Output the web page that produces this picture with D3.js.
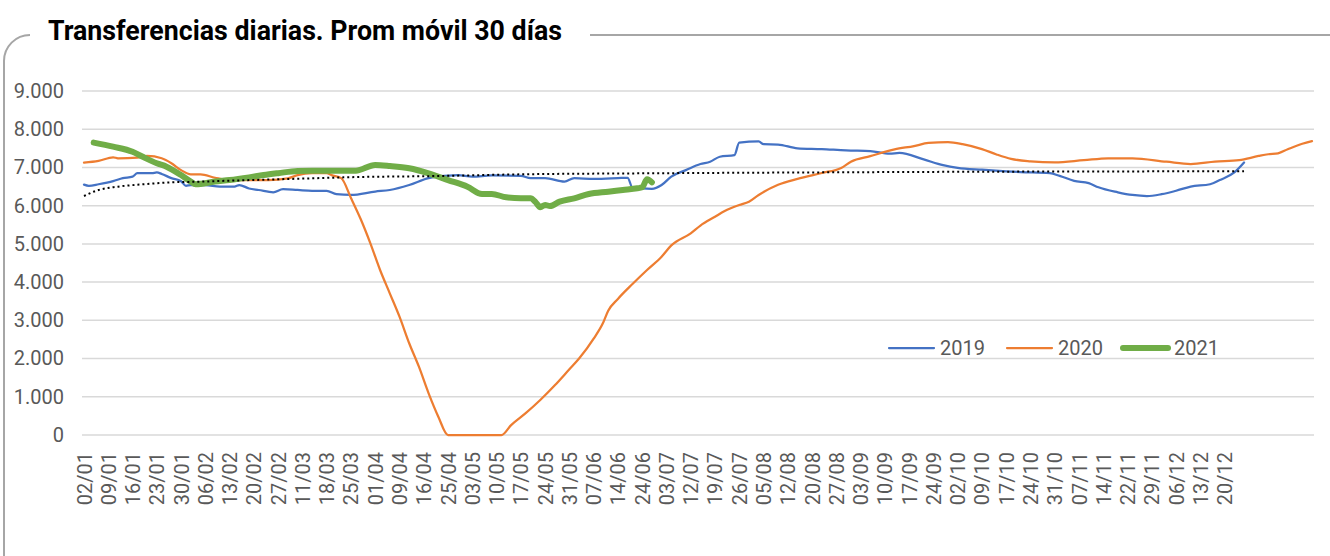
<!DOCTYPE html>
<html lang="es">
  <head>
    <meta charset="utf-8">
    <title>Transferencias diarias</title>
    <script type="text/javascript" src="https://d3js.org/d3.v7.min.js"></script>
    <style type="text/css">
      body{
        margin: 0;
        background: #ffffff;
      }
      text{
        font-family: Roboto, "Liberation Sans", sans-serif;
      }
    </style>
  </head>
  <body>
    <div id="placeHere"></div>

    <script type="text/javascript">
      //width and height
      var w = 1330;
      var h = 556;

      //number of daily categories (business days) on the x axis
      var nDays = 254;

      //x tick labels, one every 5 days
      var tickLabels = ["02/01","09/01","16/01","23/01","30/01","06/02","13/02","20/02","27/02","11/03",
                        "18/03","25/03","01/04","09/04","16/04","25/04","03/05","10/05","17/05","24/05",
                        "31/05","07/06","14/06","24/06","03/07","12/07","19/07","26/07","05/08","12/08",
                        "20/08","27/08","03/09","10/09","17/09","24/09","02/10","09/10","17/10","24/10",
                        "31/10","07/11","14/11","22/11","29/11","06/12","13/12","20/12"];
      var yTicks = [0, 1000, 2000, 3000, 4000, 5000, 6000, 7000, 8000, 9000];

      //series values: [day index, value]
      var s2019 = [[0,6550],[1,6520],[3,6560],[6,6640],[8,6720],[10,6760],[11,6850],[14,6850],[15,6870],
                   [16,6830],[18,6720],[20,6640],[21,6520],[22,6540],[25,6540],[28,6500],[31,6500],[32,6540],
                   [34,6450],[36,6410],[39,6350],[41,6430],[44,6410],[47,6390],[50,6390],[52,6300],[55,6280],
                   [60,6370],[63,6410],[67,6540],[71,6720],[73,6760],[77,6800],[80,6760],[84,6790],[90,6780],
                   [92,6720],[95,6720],[99,6630],[101,6720],[105,6700],[110,6720],[112,6730],[113,6470],
                   [117,6440],[119,6540],[121,6760],[124,6930],[127,7090],[129,7150],[131,7280],[134,7320],
                   [135,7650],[139,7680],[140,7610],[143,7600],[147,7500],[152,7480],[157,7445],[162,7430],
                   [166,7360],[168,7380],[173,7210],[177,7060],[180,6990],[185,6940],[190,6900],[193,6880],
                   [199,6850],[201,6780],[204,6650],[207,6590],[209,6480],[213,6350],[216,6280],[219,6250],
                   [222,6300],[225,6390],[228,6500],[232,6560],[234,6670],[237,6870],[239,7130]];

      var s2020 = [[0,7125],[3,7170],[6,7265],[7,7240],[11,7255],[13,7300],[16,7240],[18,7110],[20,6930],
                   [22,6820],[24,6820],[27,6730],[30,6670],[34,6670],[38,6670],[42,6715],[44,6800],[47,6850],
                   [50,6850],[51,6800],[53,6720],[55,6200],[57,5650],[59,5015],[61,4317],[63,3707],[65,3097],
                   [67,2400],[69,1787],[71,1090],[73,480],[75,0],[86,0],[88,260],[91,570],[94,915],[97,1300],
                   [100,1720],[102,2000],[105,2520],[107,2950],[108,3250],[110,3560],[113,3950],[116,4317],
                   [119,4665],[121,4960],[125,5277],[127,5480],[130,5710],[132,5860],[135,6018],[137,6105],
                   [139,6280],[143,6546],[147,6700],[152,6855],[156,6987],[158,7150],[162,7295],[167,7471],
                   [171,7560],[174,7640],[178,7660],[181,7610],[185,7480],[188,7340],[191,7225],[195,7160],
                   [200,7130],[206,7190],[211,7240],[216,7240],[223,7150],[228,7090],[233,7150],[238,7190],
                   [242,7300],[244,7345],[246,7370],[248,7475],[251,7620],[253,7690]];

      var s2021 = [[2,7650],[6,7545],[10,7410],[12,7285],[15,7110],[17,7020],[20,6800],[22,6630],[23,6560],
                   [27,6630],[30,6670],[34,6740],[37,6800],[40,6850],[44,6910],[47,6915],[51,6915],[56,6915],
                   [60,7064],[63,7038],[67,6978],[71,6846],[75,6670],[79,6497],[82,6305],[84,6305],[87,6218],
                   [90,6193],[92,6193],[93,6100],[94,5960],[95,6018],[96,5990],[98,6105],[101,6193],[104,6305],
                   [108,6366],[111,6410],[114,6454],[115,6480],[116,6690],[117,6610]];

      //dotted trend line of 2019
      var trend2019 = [[0,6253],[3,6410],[7,6497],[13,6567],[18,6611],[24,6628],[30,6654],[35,6672],
                       [40,6690],[47,6715],[54,6742],[73,6776],[90,6820],[115,6846],[139,6863],[190,6890],
                       [239,6900]];

      var seriesNames = ["2019", "2020", "2021"];
      var seriesColors = ["#4472C4", "#ED7D31", "#70AD47"];
      var seriesWidths = [2.25, 2.25, 6];

      //number format 9.000
      var fmt = d3.formatLocale({decimal: ",", thousands: ".", grouping: [3], currency: ["$", ""]}).format(",");

      //scales
      var xScale = d3.scaleLinear()
                     .domain([0, nDays - 1])
                     .range([84, 1312]);

      var yScale = d3.scaleLinear()
                     .domain([0, 9000])
                     .range([435, 91]);

      //SVG element
      var svg = d3.select("#placeHere")
                  .append("svg")
                  .attr("width", w)
                  .attr("height", h);

      //frame with rounded corner, broken by the title
      svg.append("path")
         .attr("d", "M 30 35 A 26 26 0 0 0 4 61 L 4 600")
         .attr("fill", "none")
         .attr("stroke", "#a6a6a6")
         .attr("stroke-width", 2);
      svg.append("path")
         .attr("d", "M 590 35 L 1330 35")
         .attr("fill", "none")
         .attr("stroke", "#a6a6a6")
         .attr("stroke-width", 2);

      //title
      svg.append("text")
         .attr("x", 48)
         .attr("y", 40)
         .attr("font-size", "27px")
         .attr("font-weight", "bold")
         .attr("fill", "#000000")
         .attr("textLength", 514)
         .attr("lengthAdjust", "spacingAndGlyphs")
         .text("Transferencias diarias. Prom móvil 30 días");

      //gridlines
      svg.selectAll("line.grid")
         .data(yTicks)
         .enter()
         .append("line")
         .attr("class", "grid")
         .attr("x1", 82)
         .attr("x2", 1314)
         .attr("y1", function(d){ return yScale(d); })
         .attr("y2", function(d){ return yScale(d); })
         .attr("stroke", "#d9d9d9")
         .attr("stroke-width", 1.5);

      //y axis labels
      var yAxis = d3.axisLeft(yScale)
                    .tickValues(yTicks)
                    .tickFormat(fmt)
                    .tickSize(0)
                    .tickPadding(0);
      var gy = svg.append("g")
                  .attr("transform", "translate(64,0)")
                  .call(yAxis);
      gy.select(".domain").remove();
      gy.selectAll("text")
        .attr("font-family", "Roboto, sans-serif")
        .attr("font-size", "20px")
        .attr("fill", "#595959");

      //x axis labels, rotated
      var xAxis = d3.axisBottom(xScale)
                    .tickValues(d3.range(tickLabels.length).map(function(i){ return i * 5; }))
                    .tickFormat(function(d){ return tickLabels[d / 5]; })
                    .tickSize(0)
                    .tickPadding(0);
      var gx = svg.append("g")
                  .attr("transform", "translate(0,452)")
                  .call(xAxis);
      gx.select(".domain").remove();
      gx.selectAll("text")
        .attr("font-family", "Roboto, sans-serif")
        .attr("font-size", "20px")
        .attr("fill", "#595959")
        .attr("text-anchor", "end")
        .attr("transform", "rotate(-90)")
        .attr("x", 0)
        .attr("y", 0)
        .attr("dy", "0.35em");

      //lines
      var line = d3.line()
                   .x(function(d){ return xScale(d[0]); })
                   .y(function(d){ return yScale(d[1]); })
                   .curve(d3.curveMonotoneX);

      [s2019, s2020, s2021].forEach(function(s, i){
        svg.append("path")
           .datum(s)
           .attr("d", line)
           .attr("fill", "none")
           .attr("stroke", seriesColors[i])
           .attr("stroke-width", seriesWidths[i])
           .attr("stroke-linejoin", "round")
           .attr("stroke-linecap", "round");
      });

      //trend line
      svg.append("path")
         .datum(trend2019)
         .attr("d", line)
         .attr("fill", "none")
         .attr("stroke", "#000000")
         .attr("stroke-width", 2)
         .attr("stroke-dasharray", "2,3");

      //legend
      var legendX = [889, 1007, 1123];
      var legend = svg.selectAll("g.legend")
                      .data(seriesNames)
                      .enter()
                      .append("g")
                      .attr("class", "legend")
                      .attr("transform", function(d, i){ return "translate(" + legendX[i] + ",348)"; });
      legend.append("line")
            .attr("x1", 0)
            .attr("x2", 45)
            .attr("y1", 0)
            .attr("y2", 0)
            .attr("stroke", function(d, i){ return seriesColors[i]; })
            .attr("stroke-width", function(d, i){ return seriesWidths[i]; })
            .attr("stroke-linecap", "round");
      legend.append("text")
            .attr("x", 51)
            .attr("y", 0)
            .attr("dy", "0.35em")
            .attr("font-size", "20px")
            .attr("fill", "#595959")
            .text(function(d){ return d; });
    </script>
  </body>
</html>
